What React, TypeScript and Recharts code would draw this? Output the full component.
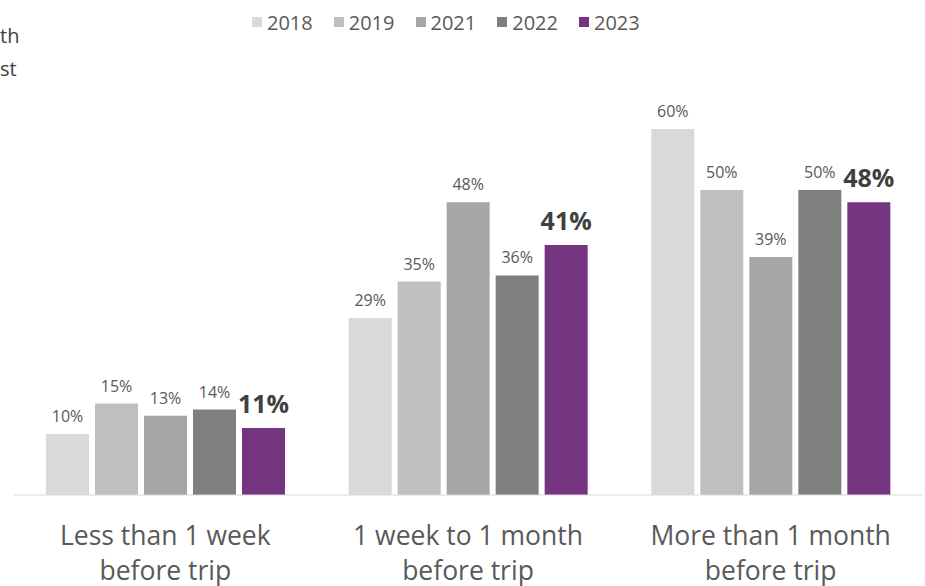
import React from "react";
import { BarChart, Bar, XAxis, YAxis, Legend, LabelList } from "recharts";

const categories = [
  "Less than 1 week before trip",
  "1 week to 1 month before trip",
  "More than 1 month before trip",
];
const categoryLines: Record<string, string[]> = {
  "Less than 1 week before trip": ["Less than 1 week", "before trip"],
  "1 week to 1 month before trip": ["1 week to 1 month", "before trip"],
  "More than 1 month before trip": ["More than 1 month", "before trip"],
};
const years = ["2018", "2019", "2021", "2022", "2023"];
const values2018 = [10, 29, 60];
const values2019 = [15, 35, 50];
const values2021 = [13, 48, 39];
const values2022 = [14, 36, 50];
const values2023 = [11, 41, 48];
const yearColors = ["#d9d9d9", "#bfbfbf", "#a6a6a6", "#7f7f7f", "#743480"];

const seriesValues = [values2018, values2019, values2021, values2022, values2023];
const data = categories.map((c, i) => {
  const row: Record<string, string | number> = { category: c };
  years.forEach((y, k) => {
    row[y] = seriesValues[k][i];
  });
  return row;
});

const FONT = "'Open Sans', 'Noto Sans', sans-serif";

const CategoryTick = (props: any) => {
  const { x, y, payload } = props;
  const lines = categoryLines[payload.value] || [payload.value];
  return (
    <g>
      {lines.map((l, i) => (
        <text
          key={i}
          x={x}
          y={y + 49.5 + i * 35}
          textAnchor="middle"
          fill="#595959"
          fontFamily={FONT}
          fontSize={26.5}
        >
          {l}
        </text>
      ))}
    </g>
  );
};

const LegendContent = () => (
  <div
    style={{
      height: 28,
      display: "flex",
      justifyContent: "flex-start",
      alignItems: "center",
      paddingLeft: 252,
      fontFamily: FONT,
      fontSize: 20,
      color: "#595959",
    }}
  >
    {years.map((y, i) => (
      <div
        key={y}
        style={{ display: "flex", alignItems: "center", marginRight: i < years.length - 1 ? 21 : 0 }}
      >
        <span
          style={{
            display: "inline-block",
            width: 10,
            height: 10,
            background: yearColors[i],
            marginRight: 5,
          }}
        />
        <span>{y}</span>
      </div>
    ))}
  </div>
);

export default function App() {
  return (
    <div style={{ position: "absolute", left: 0, top: 0, width: 925, height: 586, background: "#fff" }}>
      <div
        style={{
          position: "absolute",
          left: 0,
          top: 19,
          fontFamily: FONT,
          fontSize: 20,
          lineHeight: "33px",
          color: "#404040",
        }}
      >
        <div>th</div>
        <div>st</div>
      </div>
      <BarChart
        width={925}
        height={586}
        data={data}
        margin={{ top: 101, right: 3, left: 14, bottom: 0 }}
        barGap={6}
        barSize={43}
      >
        <Legend
          verticalAlign="top"
          align="left"
          content={<LegendContent />}
          wrapperStyle={{ top: 8, left: 0, width: 925 }}
        />
        <XAxis
          dataKey="category"
          axisLine={{ stroke: "#d9d9d9", strokeWidth: 1 }}
          tickLine={false}
          tickSize={0}
          tickMargin={0}
          height={91}
          interval={0}
          tick={<CategoryTick />}
        />
        <YAxis hide domain={[0, 60]} />
        {years.map((y, i) => {
          const isLast = i === years.length - 1;
          return (
            <Bar key={y} dataKey={y} fill={yearColors[i]} isAnimationActive={false}>
              <LabelList
                dataKey={y}
                position="top"
                offset={isLast ? 15 : 12}
                formatter={(v: any) => `${v}%`}
                fill={isLast ? "#404040" : "#595959"}
                fontFamily={FONT}
                fontSize={isLast ? 25 : 16}
                fontWeight={isLast ? 700 : 400}
              />
            </Bar>
          );
        })}
      </BarChart>
    </div>
  );
}
